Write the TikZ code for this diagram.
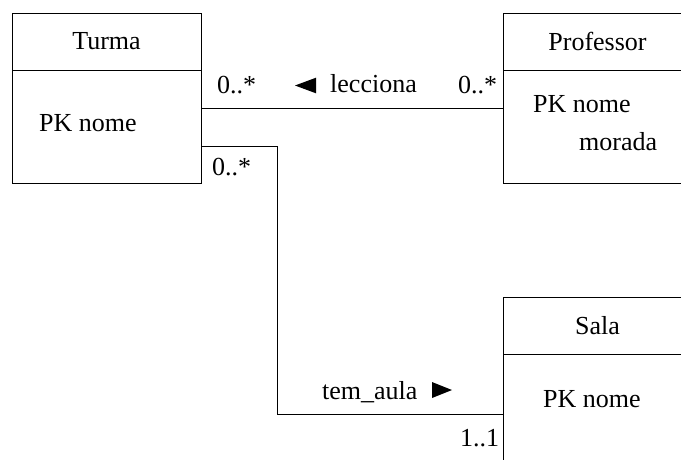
\documentclass[tikz,border=0pt]{standalone}
\usepackage{fontspec}
\setmainfont{Liberation Serif}
\usepackage{tikz}
\usetikzlibrary{positioning,calc}

\tikzset{
  classpart/.style={draw, rectangle, minimum width=189pt, inner sep=0pt, line width=0.9pt},
  umltext/.style={font=\fontsize{26}{30}\selectfont, inner sep=0pt},
  attr/.style={umltext, anchor=base west},
  assoc/.style={line width=0.9pt},
}

\begin{document}
\begin{tikzpicture}[x=1pt,y=-1pt]
\useasboundingbox (0,0) rectangle (681,459);
\clip (0,0) rectangle (681,459);

% classes
\node[classpart, minimum height=57pt] (turmaHead) at (106.5,41.5) {};
\node[classpart, minimum height=113pt, below=0pt of turmaHead] (turmaBody) {};
\node[classpart, minimum height=57pt] (profHead) at (597.5,41.5) {};
\node[classpart, minimum height=113pt, below=0pt of profHead] (profBody) {};
\node[classpart, minimum height=57pt] (salaHead) at (597.5,325.5) {};
\node[classpart, minimum height=113pt, below=0pt of salaHead] (salaBody) {};

\node[umltext] (turmaName) at (turmaHead) {Turma};
\node[umltext] (profName) at (profHead) {Professor};
\node[umltext] (salaName) at (salaHead) {Sala};

\node[attr] (turmaPk) at (39,131) {PK nome};
\node[attr] (profPk) at (533,112) {PK nome};
\node[attr] (profMorada) at (579,150) {morada};
\node[attr] (salaPk) at (543,407) {PK nome};

% associations
\coordinate (leccY) at (0,108);
\coordinate (temY) at (0,146);
\coordinate (temBend) at (277,414);
\draw[assoc] (turmaBody.east |- leccY) -- (profBody.west |- leccY);
\draw[assoc] (turmaBody.east |- temY) -| (temBend) -- (salaBody.west |- temBend);

% multiplicities and names
\node[attr] (multTurmaL) at (217,93) {0..*};
\node[attr] (multProf) at (458,93) {0..*};
\node[attr] (multTurmaT) at (212,175) {0..*};
\node[attr] (multSala) at (460,446) {1..1};

\node[attr] (leccLbl) at (330,92) {lecciona};
\fill ($(leccLbl.base west)+(-35,-6.5)$) -- ($(leccLbl.base west)+(-14,-14.3)$)
  -- ($(leccLbl.base west)+(-14,1.3)$) -- cycle;
\node[attr] (temLbl) at (322,399) {tem\_aula};
\fill ($(temLbl.base west)+(130,-9)$) -- ($(temLbl.base west)+(110,-17)$)
  -- ($(temLbl.base west)+(110,-1)$) -- cycle;
\end{tikzpicture}
\end{document}
